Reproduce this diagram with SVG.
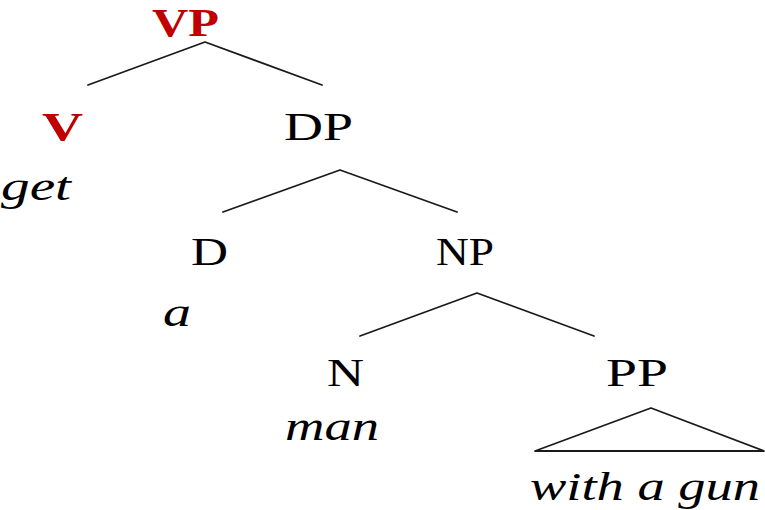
<svg xmlns="http://www.w3.org/2000/svg" width="765" height="510" viewBox="0 0 765 510">
<style>
text{font-family:"Liberation Serif","Times New Roman",serif}
.cat{font-size:41px;fill:#000}
.head{font-weight:bold;fill:#c00000}
.word{font-size:40px;font-style:italic;fill:#000}
.edge{stroke:#1a1a1a;stroke-width:1.8;fill:none;stroke-linecap:round;stroke-linejoin:round}
</style>
<rect width="765" height="510" fill="#fff"/>
<g id="connectors">
<polyline class="edge" points="88,85 205,42 322,85"/>
<polyline class="edge" points="223,212 340,170 457,212"/>
<polyline class="edge" points="360,336 477,293 594,336"/>
<polygon class="edge" points="535,451 651,408 764,451"/>
</g>
<g id="VP"><text class="cat head" x="152" y="36" font-size="44" textLength="67" lengthAdjust="spacingAndGlyphs">VP</text></g>
<g id="V"><text class="cat head" x="42" y="140" textLength="41" lengthAdjust="spacingAndGlyphs">V</text><text class="word" x="1" y="200" textLength="70" lengthAdjust="spacingAndGlyphs">get</text></g>
<g id="DP"><text class="cat" x="284" y="140" textLength="69" lengthAdjust="spacingAndGlyphs">DP</text></g>
<g id="D"><text class="cat" x="191" y="265" textLength="37" lengthAdjust="spacingAndGlyphs">D</text><text class="word" x="163" y="326" textLength="28" lengthAdjust="spacingAndGlyphs">a</text></g>
<g id="NP"><text class="cat" x="436" y="265" textLength="58" lengthAdjust="spacingAndGlyphs">NP</text></g>
<g id="N"><text class="cat" x="327" y="386" textLength="37" lengthAdjust="spacingAndGlyphs">N</text><text class="word" x="285" y="440" textLength="94" lengthAdjust="spacingAndGlyphs">man</text></g>
<g id="PP"><text class="cat" x="606" y="386" textLength="62" lengthAdjust="spacingAndGlyphs">PP</text><text class="word" x="530" y="500" textLength="230" lengthAdjust="spacingAndGlyphs">with a gun</text></g>
</svg>
